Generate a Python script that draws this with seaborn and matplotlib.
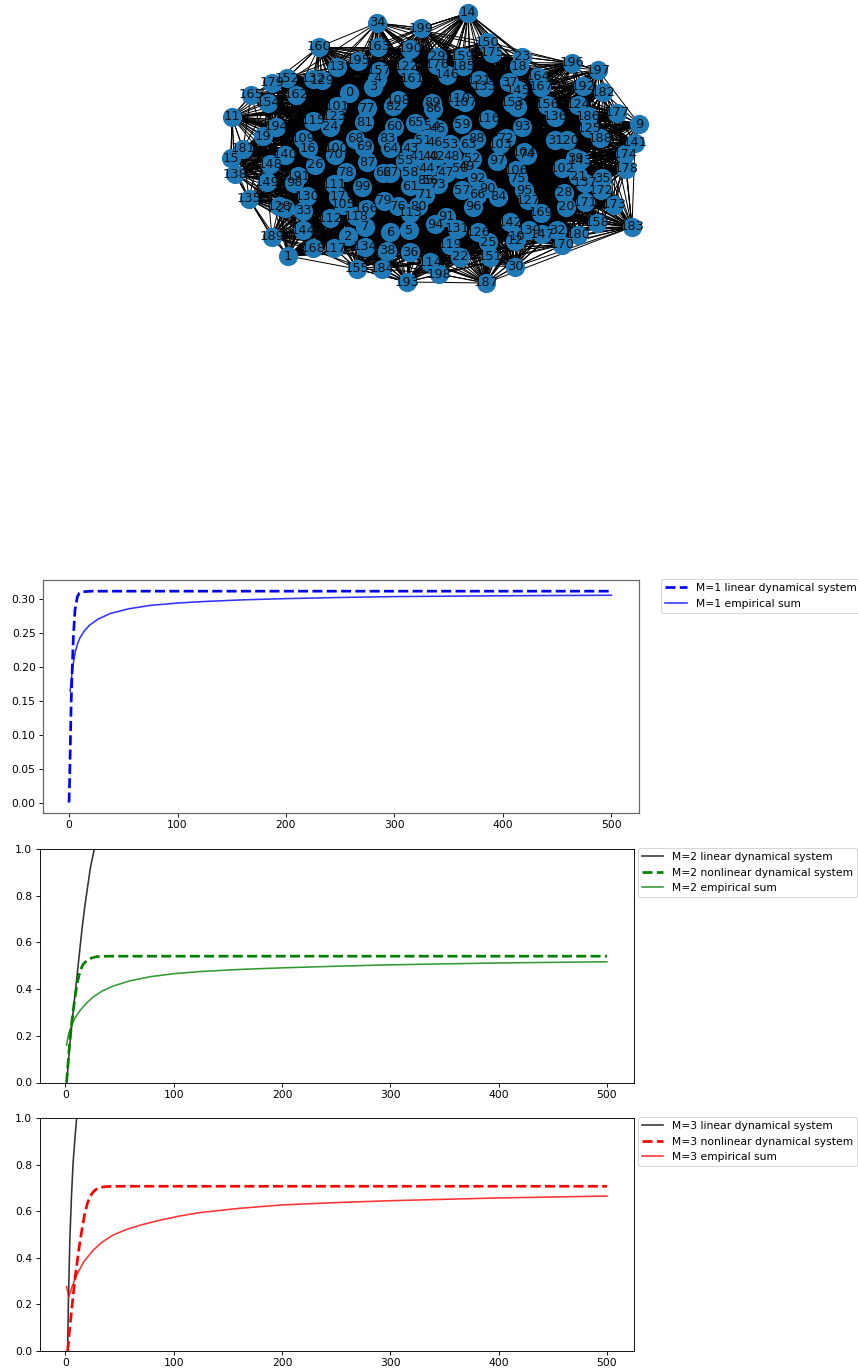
import matplotlib
matplotlib.use("Agg")
import matplotlib.pyplot as plt
import seaborn as sns
from matplotlib.collections import LineCollection

# ---- network nodes: id, x, y
nodes = [
(0,349,93),(1,288,256),(2,348,236),(3,373,87),(4,377,79),(5,409,230),(6,390,232),(7,365,227),(8,517,107),(9,639,124),
(10,517,237),(11,232,117),(12,515,241),(13,337,67),(14,468,13),(15,231,158),(16,308,148),(17,338,197),(18,519,66),(19,263,136),
(20,566,207),(21,578,176),(22,460,257),(23,522,57),(24,330,127),(25,488,242),(26,315,165),(27,285,208),(28,564,193),(29,437,57),
(30,515,267),(31,555,140),(32,557,230),(33,303,211),(34,377,23),(35,602,178),(36,410,252),(37,509,82),(38,387,251),(39,575,158),
(40,431,156),(41,418,156),(42,437,156),(43,411,148),(44,427,169),(45,438,129),(46,435,142),(47,446,173),(48,452,156),(49,467,167),
(50,460,169),(51,423,140),(52,472,159),(53,450,144),(54,432,127),(55,405,161),(56,430,181),(57,462,190),(58,410,173),(59,462,124),
(60,394,127),(61,410,186),(62,383,173),(63,468,144),(64,390,148),(65,415,123),(66,477,195),(67,390,173),(68,355,139),(69,364,147),
(70,335,155),(71,425,195),(72,506,138),(73,438,184),(74,527,155),(75,518,178),(76,398,206),(77,367,108),(78,346,172),(79,384,201),
(80,418,206),(81,364,122),(82,393,106),(83,387,139),(84,498,197),(85,425,181),(86,433,109),(87,367,162),(88,476,139),(89,432,103),
(90,487,188),(91,446,217),(92,477,178),(93,522,127),(94,435,224),(95,524,190),(96,473,207),(97,497,161),(98,294,183),(99,362,187),
(100,336,149),(101,337,106),(102,562,168),(103,500,144),(104,524,152),(105,343,205),(106,516,170),(107,465,102),(108,398,100),(109,303,139),
(110,458,99),(111,334,184),(112,330,218),(113,410,213),(114,430,262),(115,313,121),(116,488,119),(117,334,248),(118,356,216),(119,450,245),
(120,567,140),(121,479,80),(122,406,67),(123,334,117),(124,578,105),(125,589,128),(126,478,232),(127,528,200),(128,279,206),(129,322,80),
(130,307,196),(131,457,229),(132,313,79),(133,484,87),(134,365,247),(135,249,199),(136,555,117),(137,585,183),(138,235,174),(139,529,230),
(140,285,155),(141,635,143),(142,510,222),(143,580,160),(144,303,230),(145,518,90),(146,447,75),(147,542,234),(148,270,164),(149,267,182),
(150,487,42),(151,490,257),(152,287,78),(153,512,103),(154,268,103),(155,357,269),(156,547,105),(157,379,71),(158,597,223),(159,462,57),
(160,319,47),(161,412,79),(162,296,95),(163,378,47),(164,538,77),(165,251,95),(166,366,209),(167,541,87),(168,313,248),(169,541,213),
(170,562,245),(171,585,202),(172,601,190),(173,614,205),(174,625,154),(175,492,53),(176,437,65),(177,617,113),(178,626,169),(179,272,83),
(180,578,235),(181,243,149),(182,603,92),(183,632,227),(184,382,269),(185,463,66),(186,588,116),(187,486,283),(188,600,138),(189,272,237),
(190,410,49),(191,298,176),(192,583,86),(193,407,282),(194,276,127),(195,358,61),(196,572,63),(197,598,70),(198,439,274),(199,421,28),
]
edge_steps = [1, 4, 9, 15, 23, 31, 38, 47, 52, 58, 66, 73, 79, 84, 91, 97]
near_radius = 62
hull_edges = [(34,160),(34,199),(34,163),(1,155),(1,189),(135,189),(30,170),(30,187),(170,183),(160,152),(14,199),(14,23),(14,150),
              (23,196),(196,197),(197,9),(183,141),(183,178),(183,158),(9,141),(9,177),(11,165),(11,15),(135,138),(155,193),(184,193),
              (193,187),(198,187),(187,151),(183,173),(183,180),(170,158),(160,13),(160,195),(11,181),(138,189)]

# ---- panel 1 (M=1)
m1_lin_t = [0, 0.5, 1, 2, 3, 4, 5.5, 7.7, 9.5, 11.7, 20, 500]
m1_lin_v = [0.0, 0.03, 0.07, 0.15, 0.2, 0.245, 0.284, 0.304, 0.309, 0.311, 0.312, 0.312]
m1_emp_t = [1, 2, 3, 4, 6, 8, 10, 14, 19, 27, 38, 55, 75, 100, 125, 160, 200, 250, 300, 400, 500]
m1_emp_v = [0.164, 0.18, 0.195, 0.206, 0.224, 0.235, 0.243, 0.253, 0.262, 0.271, 0.279, 0.286, 0.291,
            0.2945, 0.2968, 0.2992, 0.301, 0.3027, 0.304, 0.3052, 0.306]

# ---- panel 2 (M=2)
m2_lin_t = [1, 1.8, 2.6, 4, 5.7, 8, 10.3, 13, 15.5, 18, 20, 23, 26.6, 30]
m2_lin_v = [0.0, 0.04, 0.083, 0.16, 0.239, 0.345, 0.44, 0.56, 0.667, 0.76, 0.824, 0.92, 1.0, 1.08]
m2_non_t = [1, 4, 6.5, 8.8, 11, 13.4, 16, 19.6, 24, 28.8, 40, 500]
m2_non_v = [0.0, 0.18, 0.285, 0.367, 0.43, 0.475, 0.505, 0.522, 0.533, 0.539, 0.541, 0.541]
m2_emp_t = [1, 3, 5.7, 9, 13.4, 19, 25.7, 34, 44, 60, 78, 100, 124, 160, 200, 250, 300, 400, 500]
m2_emp_v = [0.16, 0.21, 0.246, 0.278, 0.308, 0.338, 0.367, 0.392, 0.413, 0.436, 0.453, 0.466, 0.475,
            0.484, 0.491, 0.498, 0.504, 0.512, 0.517]

# ---- panel 3 (M=3)
m3_lin_t = [2, 2.6, 4, 5.5, 7, 8.7, 10.3, 12]
m3_lin_v = [0.0, 0.19, 0.476, 0.66, 0.806, 0.91, 1.0, 1.1]
m3_non_t = [2, 3.5, 6, 8.6, 11, 13.2, 15.5, 17.8, 20, 22.4, 26, 30, 36, 44, 500]
m3_non_v = [0.0, 0.077, 0.19, 0.305, 0.39, 0.463, 0.53, 0.59, 0.63, 0.662, 0.685, 0.70, 0.705, 0.707, 0.707]
m3_emp_t = [1, 3, 6, 10.3, 17, 25.7, 34, 44, 56, 69, 85, 105, 124, 160, 200, 250, 300, 400, 500]
m3_emp_v = [0.276, 0.233, 0.275, 0.326, 0.384, 0.433, 0.468, 0.498, 0.521, 0.54, 0.559, 0.579, 0.594,
            0.612, 0.627, 0.637, 0.645, 0.657, 0.665]

x_ticks = [0, 100, 200, 300, 400, 500]
y_ticks_m1 = [0, 0.05, 0.10, 0.15, 0.20, 0.25, 0.30]

plt.rcParams.update({"font.size": 10.75, "axes.linewidth": 0.9, "xtick.major.size": 3.8, "ytick.major.size": 3.8,
                     "xtick.major.width": 0.9, "ytick.major.width": 0.9})

W, H = 858, 1372
fig = plt.figure(figsize=(W / 72, H / 72), dpi=72)


def axes_px(left, right, top, bottom):
    return fig.add_axes([left / W, 1 - bottom / H, (right - left) / W, (bottom - top) / H])


# ---- network
ax0 = axes_px(0, W, 0, 300)
xs = [n[1] for n in nodes]
ys = [n[2] for n in nodes]
pos = {n[0]: (n[1], n[2]) for n in nodes}
N = len(nodes)
segs = [(pos[i], pos[(i + s) % N]) for i in pos for s in edge_steps]
segs += [(pos[a], pos[b]) for a, b in hull_edges]
segs += [(pos[a], pos[b]) for a in pos for b in pos
         if a < b and (pos[a][0] - pos[b][0]) ** 2 + (pos[a][1] - pos[b][1]) ** 2 < near_radius ** 2]
ax0.add_collection(LineCollection(segs, colors="k", linewidths=1.0, zorder=1))
sns.scatterplot(x=xs, y=ys, s=370, color="#1f77b4", linewidth=0, ax=ax0, zorder=2, clip_on=False, legend=False)
for i, x, y in nodes:
    ax0.text(x, y, str(i), fontsize=13, ha="center", va="center", zorder=3, color="#111111")
ax0.set_xlim(0, W)
ax0.set_ylim(300, 0)
ax0.axis("off")


def line(ax, t, v, color, label, dashed=False, alpha=1.0):
    sns.lineplot(x=t, y=v, ax=ax, color=color, label=label, estimator=None, sort=False, errorbar=None,
                 linewidth=2.7 if dashed else 1.6, linestyle="--" if dashed else "-", alpha=alpha)


# ---- panel 1
ax1 = axes_px(43, 638.5, 580, 813)
line(ax1, m1_lin_t, m1_lin_v, "blue", "M=1 linear dynamical system", dashed=True)
line(ax1, m1_emp_t, m1_emp_v, "blue", "M=1 empirical sum", alpha=0.8)
ax1.set_xlim(-24, 525)
ax1.set_ylim(-0.0155, 0.3285)
ax1.set_xticks(x_ticks)
ax1.set_yticks(y_ticks_m1)
for sp in ax1.spines.values():
    sp.set_color("#666666")
    sp.set_linewidth(1.2)
ax1.legend(loc="upper left", bbox_to_anchor=(1.038, 1.005), borderaxespad=0)

# ---- panel 2
ax2 = axes_px(39.5, 634, 849, 1082.5)
line(ax2, m2_lin_t, m2_lin_v, "k", "M=2 linear dynamical system", alpha=0.8)
line(ax2, m2_non_t, m2_non_v, "green", "M=2 nonlinear dynamical system", dashed=True)
line(ax2, m2_emp_t, m2_emp_v, "green", "M=2 empirical sum", alpha=0.8)
ax2.set_xlim(-24, 525)
ax2.set_ylim(0, 1)
ax2.set_xticks(x_ticks)
ax2.legend(loc="upper left", bbox_to_anchor=(1.006, 1.005), borderaxespad=0)

# ---- panel 3
ax3 = axes_px(39.5, 634, 1118, 1351)
line(ax3, m3_lin_t, m3_lin_v, "k", "M=3 linear dynamical system", alpha=0.8)
line(ax3, m3_non_t, m3_non_v, "red", "M=3 nonlinear dynamical system", dashed=True)
line(ax3, m3_emp_t, m3_emp_v, "red", "M=3 empirical sum", alpha=0.8)
ax3.set_xlim(-24, 525)
ax3.set_ylim(0, 1)
ax3.set_xticks(x_ticks)
ax3.legend(loc="upper left", bbox_to_anchor=(1.006, 1.005), borderaxespad=0)

fig.savefig("out.png", dpi=72)
